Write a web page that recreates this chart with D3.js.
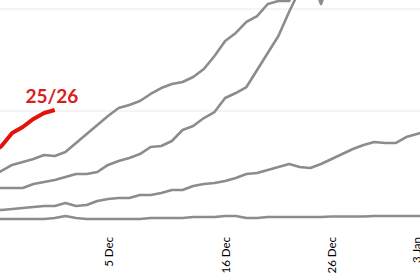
<!DOCTYPE html>
<html><head><meta charset="utf-8">
<script src="https://cdn.jsdelivr.net/npm/d3@7"></script>
<style>html,body{margin:0;padding:0;background:#fff;overflow:hidden}</style>
</head><body>
<svg id="chart" width="420" height="280"></svg>
<script>
// Day numbers (December day; 32 = 1 Jan)
const days = d3.range(-6, 36);
const tickDays = [5, 16, 26, 34];
const tickLabels = ["5 Dec", "16 Dec", "26 Dec", "3 Jan"];
const gridValues = [2000, 3000];

const season2526Days = [-6, -5, -4, -3, -2, -1, 0];
const season2526 = [1569, 1657, 1784, 1843, 1922, 1980, 2010];

const seriesA = [1353,1412,1471,1500,1529,1569,1559,1598,1686,1775,1863,1951,2029,2059,2098,2167,2225,2265,2284,2333,2412,2539,2686,2765,2873,2931,3049,3078,3078,3235,3333,3049,3333];
const seriesB = [1245,1245,1245,1245,1284,1304,1324,1353,1382,1382,1402,1471,1510,1539,1578,1647,1657,1706,1814,1853,1931,1990,2127,2176,2235,2402,2569,2735,2971,3186,3382];
const seriesD = [1039,1029,1039,1049,1059,1069,1069,1098,1069,1078,1118,1137,1147,1147,1176,1176,1196,1225,1225,1265,1284,1294,1314,1343,1382,1392,1422,1451,1480,1451,1441,1480,1529,1578,1627,1667,1696,1686,1686,1745,1775,1804];
const seriesE = [941,941,941,941,941,941,951,971,951,941,941,941,941,941,941,951,951,951,951,961,961,961,971,971,951,951,961,961,961,961,961,961,966,966,966,966,971,971,971,971,971,971];

const W = 420, H = 280;
const svg = d3.select("#chart");
const x = d3.scaleLinear().domain([-5.141, 34.296]).range([0, W]);
const y = d3.scaleLinear().domain([1000, 2000]).range([213, 111]);

svg.append("g").selectAll("line").data(gridValues).join("line")
  .attr("x1", 0).attr("x2", W)
  .attr("y1", d => y(d)).attr("y2", d => y(d))
  .attr("stroke", "#e9e9e9").attr("stroke-width", 1);

const line = d3.line().x(d => x(d[0])).y(d => y(d[1]));
const greys = [seriesE, seriesD, seriesB, seriesA];
svg.append("g").selectAll("path").data(greys).join("path")
  .attr("d", s => line(s.map((v, i) => [days[i], v])))
  .attr("fill", "none").attr("stroke", "#8c8c8c").attr("stroke-width", 2.6)
  .attr("stroke-linejoin", "round");

svg.append("path")
  .attr("d", line(season2526.map((v, i) => [season2526Days[i], v])))
  .attr("fill", "none").attr("stroke", "#e3120b").attr("stroke-width", 4)
  .attr("stroke-linejoin", "round").attr("stroke-linecap", "butt");

svg.append("text").attr("x", x(-2.75)).attr("y", y(2075))
  .attr("fill", "#d81e1e").attr("font-family", "Lato, 'Open Sans', sans-serif")
  .attr("font-weight", "bold").attr("font-size", 19).text("25/26");

const xAxis = d3.axisBottom(x).tickValues(tickDays).tickSize(0)
  .tickFormat((d, i) => tickLabels[i]);
const gx = svg.append("g").attr("transform", "translate(0,233)").call(xAxis);
gx.select(".domain").remove();
gx.selectAll("text")
  .attr("font-family", "Lato, 'Open Sans', sans-serif").attr("font-size", 11.5)
  .attr("fill", "#000")
  .attr("text-anchor", "end").attr("dy", null).attr("y", 0)
  .attr("transform", "rotate(-90)").attr("x", -4).attr("dy", "0.35em");
</script>
</body></html>
